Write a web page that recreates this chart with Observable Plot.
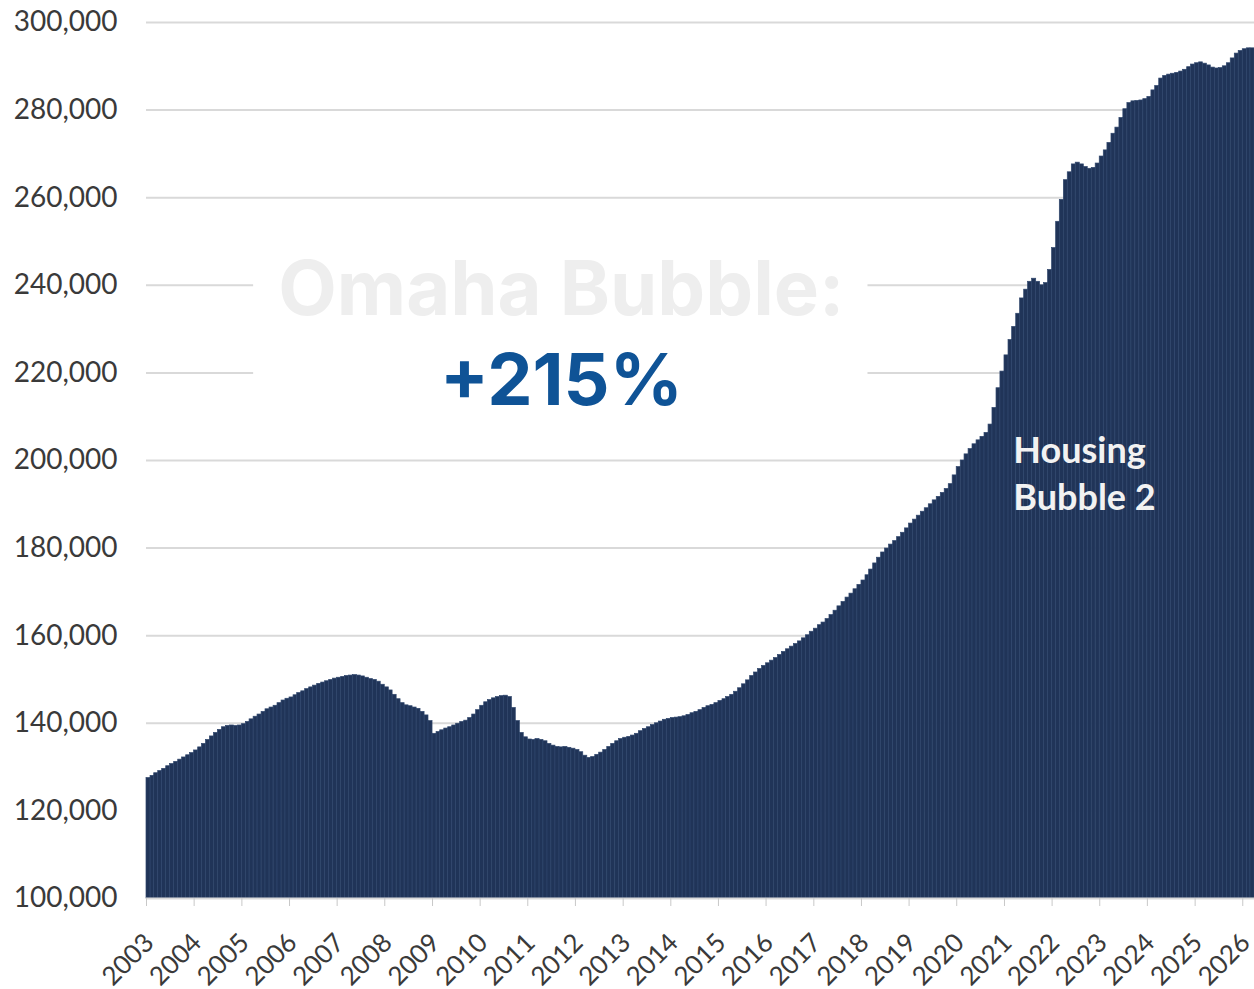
<!DOCTYPE html>
<html>
<head>
<meta charset="utf-8">
<script src="https://cdn.jsdelivr.net/npm/d3@7"></script>
<script src="https://cdn.jsdelivr.net/npm/@observablehq/plot@0.6"></script>
<style>
  html, body { margin: 0; padding: 0; background: #ffffff; }
  #chart svg { display: block; }
</style>
</head>
<body>
<div id="chart"></div>
<script>
// ---- data (monthly values) ----
const startYear = 2003;
const monthlyValues = [
  // 2003
  127500, 128000, 128600, 129100, 129600, 130200, 130700, 131200, 131700, 132200, 132700, 133200,
  // 2004
  133800, 134500, 135300, 136200, 137000, 137800, 138500, 139100, 139400, 139500, 139400, 139500,
  // 2005
  139800, 140300, 140900, 141500, 142000, 142600, 143200, 143600, 144000, 144600, 145200, 145600,
  // 2006
  145900, 146400, 146900, 147300, 147800, 148200, 148600, 149000, 149300, 149600, 149900, 150200,
  // 2007
  150400, 150600, 150800, 150900, 151000, 150900, 150700, 150400, 150100, 149900, 149500, 148800,
  // 2008
  148200, 147500, 146500, 145500, 144600, 144100, 143900, 143600, 143300, 142600, 141800, 140500,
  // 2009
  137600, 138000, 138400, 138800, 139100, 139500, 139900, 140300, 140600, 141200, 142000, 143000,
  // 2010
  144000, 144800, 145300, 145700, 146000, 146200, 146300, 146000, 143500, 140500, 137800, 136800,
  // 2011
  136300, 136200, 136400, 136200, 135900, 135300, 134900, 134600, 134500, 134600, 134400, 134200,
  // 2012
  133900, 133400, 132600, 132100, 132300, 132800, 133300, 133900, 134600, 135300, 135900, 136400,
  // 2013
  136700, 136900, 137200, 137600, 138200, 138700, 139100, 139600, 140000, 140400, 140800, 141000,
  // 2014
  141200, 141300, 141400, 141600, 141900, 142300, 142600, 143000, 143500, 143900, 144200, 144600,
  // 2015
  145100, 145500, 146000, 146500, 147200, 148000, 148900, 149800, 150800, 151600, 152400, 153100,
  // 2016
  153700, 154300, 154900, 155600, 156300, 156900, 157500, 158100, 158700, 159400, 160100, 160900,
  // 2017
  161600, 162400, 163000, 163800, 164700, 165700, 166700, 167700, 168700, 169600, 170600, 171600,
  // 2018
  172600, 173800, 175100, 176500, 177800, 179000, 179900, 180800, 181600, 182500, 183500, 184500,
  // 2019
  185600, 186500, 187400, 188300, 189100, 190000, 190900, 191700, 192600, 193500, 194600, 196600,
  // 2020
  198500, 200000, 201400, 202600, 203700, 204600, 205400, 206300, 208200, 212000, 216500, 220300,
  // 2021
  224000, 227500, 230500, 233500, 237000, 239000, 240800, 241500, 240800, 240000, 240500, 243500,
  // 2022
  248500, 254500, 259500, 264000, 265800, 267600, 268000, 267600, 267000, 266600, 266800, 267800,
  // 2023
  269400, 270800, 272500, 274600, 276000, 278200, 280200, 281600, 282000, 282100, 282200, 282500,
  // 2024
  283000, 284500, 285500, 287200, 287800, 288100, 288300, 288500, 288800, 289200, 289800, 290400,
  // 2025
  290700, 290900, 290600, 290200, 289700, 289500, 289600, 290000, 290700, 291800, 292900, 293500,
  // 2026
  293900, 294100, 294100
];
const yTicks = [100000, 120000, 140000, 160000, 180000, 200000, 220000, 240000, 260000, 280000, 300000];
const xTickYears = [2003, 2004, 2005, 2006, 2007, 2008, 2009, 2010, 2011, 2012, 2013, 2014,
                    2015, 2016, 2017, 2018, 2019, 2020, 2021, 2022, 2023, 2024, 2025, 2026];
const titleText = "Omaha Bubble:";
const changeText = "+215%";
const noteText = "Housing\nBubble 2";

// ---- build table ----
const data = monthlyValues.map((v, i) => {
  const date = new Date(Date.UTC(startYear, i, 1));
  return { date, next: d3.utcMonth.offset(date, 1), value: v };
});
const yearDates = xTickYears.map(y => new Date(Date.UTC(y, 0, 1)));
const xStart = data[0].date;
const xEnd = data[data.length - 1].next;
const yMin = yTicks[0], yMax = yTicks[yTicks.length - 1];

// annotation anchors (data units)
const labelCenter = new Date(Date.UTC(2011, 8, 15));
const boxX1 = new Date(Date.UTC(2005, 3, 1));
const boxX2 = new Date(Date.UTC(2018, 1, 20));
const noteX = new Date(Date.UTC(2021, 2, 10));

const chart = Plot.plot({
  width: 1254,
  height: 989,
  marginLeft: 146,
  marginRight: 0,
  marginTop: 22,
  marginBottom: 91,
  style: { fontFamily: "Lato, 'Open Sans', sans-serif", background: "#ffffff", overflow: "visible" },
  x: { type: "utc", domain: [xStart, xEnd] },
  y: { domain: [yMin, yMax] },
  marks: [
    Plot.gridY(yTicks.slice(1), { stroke: "#d9d9d9", strokeOpacity: 1, strokeWidth: 2 }),
    // white panel behind the headline
    Plot.rect([{ x1: boxX1, x2: boxX2, y1: 205000, y2: 255000 }],
      { x1: "x1", x2: "x2", y1: "y1", y2: "y2", fill: "#ffffff" }),
    Plot.text([titleText], {
      x: labelCenter, y: 238800, text: d => d, textAnchor: "middle", lineAnchor: "middle",
      fontFamily: "Inter, Lato, sans-serif", fontWeight: 700, fontSize: 76, fill: "#eeeeee"
    }),
    Plot.text([changeText], {
      x: labelCenter, y: 218000, text: d => d, textAnchor: "middle", lineAnchor: "middle",
      fontFamily: "Inter, Lato, sans-serif", fontWeight: 700, fontSize: 72, fill: "#0f5396",
      letterSpacing: "-1px"
    }),
    // monthly bars
    Plot.rect(data, {
      x1: "date", x2: "next", y1: yMin, y2: "value",
      fill: "#203458", stroke: "#2f466c", strokeWidth: 0.7
    }),
    Plot.ruleY([yMin], { stroke: "#d9d9d9", strokeWidth: 2 }),
    Plot.text([noteText], {
      x: noteX, y: 207300, text: d => d, textAnchor: "start", lineAnchor: "top",
      fontFamily: "Lato, sans-serif", fontWeight: 700, fontSize: 36, lineHeight: 1.33, fill: "#f2f2f2"
    }),
    Plot.axisY(yTicks, {
      tickSize: 0, tickPadding: 29, tickFormat: d3.format(","),
      fontSize: 28, fill: "#3a3a3a", label: null
    }),
    Plot.axisX(yearDates, {
      tickSize: 8, stroke: "#c8c8c8", text: null, label: null
    }),
    Plot.axisX(yearDates, {
      tickSize: 0, tickPadding: 40, dx: 3, tickRotate: -45, tickFormat: d => d3.utcFormat("%Y")(d),
      fontSize: 26, fill: "#3a3a3a", label: null
    })
  ]
});
document.getElementById("chart").appendChild(chart);
</script>
</body>
</html>
